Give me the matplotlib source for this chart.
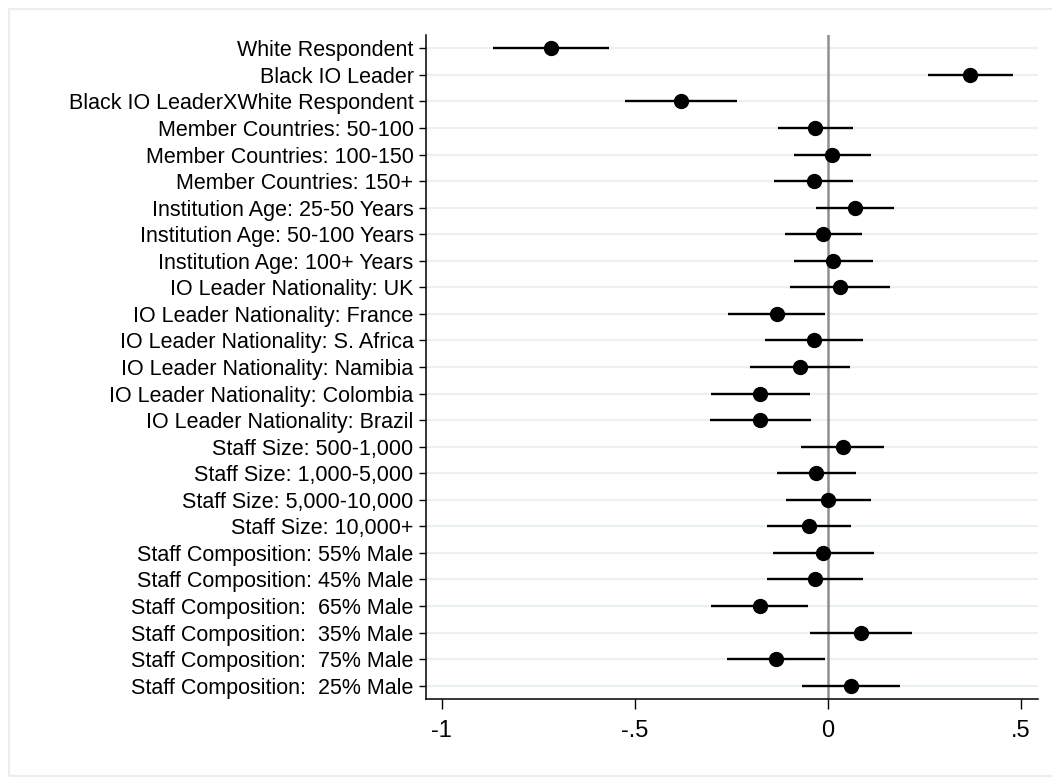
import numpy as np
import matplotlib
matplotlib.use('Agg')
from matplotlib import pyplot as plt
from matplotlib.patches import Rectangle

#####################################
# Coefficients and 95% intervals
labels = [
    'White Respondent',
    'Black IO Leader',
    'Black IO LeaderXWhite Respondent',
    'Member Countries: 50-100',
    'Member Countries: 100-150',
    'Member Countries: 150+',
    'Institution Age: 25-50 Years',
    'Institution Age: 50-100 Years',
    'Institution Age: 100+ Years',
    'IO Leader Nationality: UK',
    'IO Leader Nationality: France',
    'IO Leader Nationality: S. Africa',
    'IO Leader Nationality: Namibia',
    'IO Leader Nationality: Colombia',
    'IO Leader Nationality: Brazil',
    'Staff Size: 500-1,000',
    'Staff Size: 1,000-5,000',
    'Staff Size: 5,000-10,000',
    'Staff Size: 10,000+',
    'Staff Composition: 55% Male',
    'Staff Composition: 45% Male',
    'Staff Composition:  65% Male',
    'Staff Composition:  35% Male',
    'Staff Composition:  75% Male',
    'Staff Composition:  25% Male',
]
coef = [-0.718, 0.369, -0.381, -0.033, 0.010, -0.037, 0.070, -0.012, 0.014, 0.031,
        -0.132, -0.036, -0.073, -0.176, -0.175, 0.038, -0.032, 0.001, -0.049, -0.012,
        -0.034, -0.177, 0.085, -0.134, 0.060]
lo = [-0.868, 0.259, -0.525, -0.130, -0.089, -0.139, -0.030, -0.110, -0.087, -0.099,
      -0.258, -0.163, -0.201, -0.304, -0.306, -0.070, -0.132, -0.109, -0.157, -0.142,
      -0.158, -0.302, -0.046, -0.261, -0.066]
hi = [-0.568, 0.479, -0.236, 0.066, 0.111, 0.064, 0.170, 0.089, 0.117, 0.161,
      -0.008, 0.092, 0.056, -0.046, -0.043, 0.146, 0.072, 0.112, 0.060, 0.118,
      0.092, -0.051, 0.217, -0.008, 0.187]
xticks = [-1, -0.5, 0, 0.5]
xticklabels = ['-1', '-.5', '0', '.5']
#####################################

plt.rcParams['font.family'] = ['Liberation Sans', 'DejaVu Sans']

fig = plt.figure(figsize=(10.52, 7.78), dpi=100)
fig.patch.set_facecolor('white')
# thin light frame round the graph region
fig.patches.append(Rectangle((9 / 1052, 2 / 778), 1.2, 767 / 778, transform=fig.transFigure,
                             fill=False, edgecolor='#e8eff2', linewidth=1.6, zorder=0))

ax = fig.add_axes([426 / 1052, 1 - 699 / 778, 612 / 1052, 664 / 778])
ax.set_facecolor('white')

n = len(labels)
ypos = np.arange(n)

for y in ypos:
    ax.axhline(y, color='#eaf1f3', linewidth=1.6, zorder=0)
ax.axvline(0, color='#8f8f8f', linewidth=1.8, zorder=1)

ax.hlines(ypos, lo, hi, color='black', linewidth=1.7, zorder=2)
ax.plot(coef, ypos, 'o', color='black', markersize=10, zorder=3)

ax.set_ylim(n - 0.5, -0.5)
ax.set_xlim(-1.041, 0.544)
ax.set_yticks(ypos)
ax.set_yticklabels(labels, fontsize=15.5)
ax.set_xticks(xticks)
ax.set_xticklabels(xticklabels, fontsize=17)

for side in ['top', 'right']:
    ax.spines[side].set_visible(False)
for side in ['left', 'bottom']:
    ax.spines[side].set_linewidth(1.1)
ax.tick_params(axis='y', length=5, width=1.0, pad=4)
ax.tick_params(axis='x', length=7, width=1.0, pad=8)

fig.savefig('out.png', dpi=100)
